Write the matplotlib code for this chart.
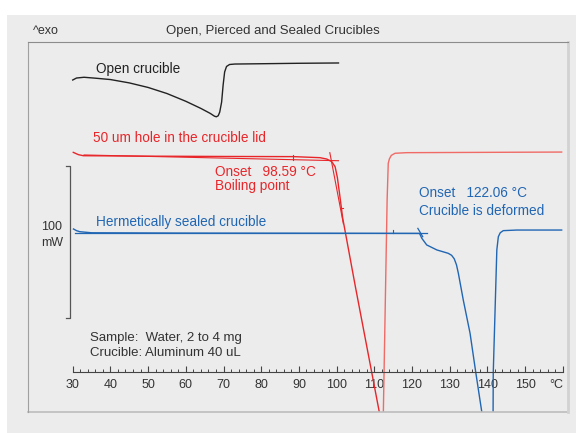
import matplotlib
matplotlib.use("Agg")
import matplotlib.pyplot as plt
import numpy as np
from matplotlib.lines import Line2D
from matplotlib.patches import Rectangle
from matplotlib.ticker import FixedLocator

plt.rcParams['font.family'] = ['Liberation Sans', 'DejaVu Sans']

# DSC curves: temperature (°C) vs heat flow (mW, arbitrary offsets)
open_T = [30.0, 31.0, 33.0, 36.0, 40.0, 45.0, 50.0, 55.0, 60.0, 64.0, 66.5, 67.6, 68.1,
          68.6, 69.0, 69.5, 69.9, 70.3, 70.8, 71.6, 73.0, 80.0, 90.0, 100.5]
open_mW = [192.1, 193.4, 193.9, 193.3, 192.4, 190.2, 187.2, 183.2, 178.1, 173.4, 170.1, 168.3, 167.9,
           168.6, 171.0, 177.6, 188.8, 197.4, 201.0, 202.3, 202.6, 202.8, 203.1, 203.3]

pierced_T = [30.15, 31.5, 32.8, 50.0, 70.0, 88.5, 95.6, 97.4, 98.7, 99.6, 100.2, 100.8,
             101.6, 105.0, 109.3, 112.2]
pierced_mW = [144.5, 143.0, 142.3, 142.0, 141.8, 141.7, 141.0, 140.1, 138.4, 135.1, 128.0, 117.0,
              101.5, 55.9, 0.0, -37.7]
pierced_ret_T = [112.3, 112.4, 113.4, 113.7, 114.0, 114.5, 115.5, 118.6, 159.7]
pierced_ret_mW = [-32.0, -26.3, 113.2, 137.3, 140.2, 142.5, 143.9, 144.3, 144.7]

sealed_T = [30.2, 31.0, 31.9, 35.0, 60.0, 100.0, 122.0, 122.6, 123.9, 126.6, 129.6, 130.5,
            131.2, 131.8, 132.3, 133.6, 135.4, 136.9, 138.5, 138.9]
sealed_mW = [94.1, 93.0, 92.3, 91.6, 91.4, 91.3, 91.2, 88.0, 83.6, 80.3, 78.1, 76.8,
             74.5, 70.5, 64.9, 47.4, 25.5, 0.0, -26.1, -33.0]
sealed_ret_T = [141.5, 141.55, 142.5, 142.9, 143.4, 144.2, 147.8, 159.7]
sealed_ret_mW = [-33.0, -0.7, 80.3, 89.0, 91.6, 93.0, 93.4, 93.4]

# onset evaluation constructions
pierced_base_T, pierced_base_mW = [33.0, 100.5], [142.8, 139.0]
pierced_tan_T, pierced_tan_mW = [98.2, 101.8], [144.3, 97.5]
sealed_base_T, sealed_base_mW = [30.5, 124.0], [91.3, 91.3]
sealed_tan_T, sealed_tan_mW = [121.55, 122.85], [94.5, 89.0]

pierced_onset = 98.59
sealed_onset = 122.06

major_ticks = list(range(30, 170, 10))
minor_ticks = list(range(30, 162, 2))
tick_labels = [str(t) for t in range(30, 160, 10)] + ['']

RED = '#e8262a'
RED_LIGHT = '#f06a66'
BLUE = '#2166b3'
BLACK = '#222222'
TEXT = '#333333'
BG = '#ececec'
FS = 9.8

fig = plt.figure(figsize=(5.76, 4.33), dpi=100, facecolor='white')
fig.patches.append(Rectangle((7 / 576, 0), 1, (433 - 15) / 433, transform=fig.transFigure,
                             facecolor=BG, edgecolor='none', zorder=-10))

ax = fig.add_axes([28 / 576, (433 - 412) / 433, 540 / 576, 370 / 433])
ax.set_facecolor(BG)
ax.set_xlim(18.14, 161.38)
ax.set_ylim(-26.3, 217.1)

ax.plot(open_T, open_mW, color=BLACK, lw=1.0)
ax.plot(pierced_T, pierced_mW, color=RED, lw=1.0)
ax.plot(pierced_ret_T, pierced_ret_mW, color=RED_LIGHT, lw=1.0)
ax.plot(sealed_T, sealed_mW, color=BLUE, lw=1.0)
ax.plot(sealed_ret_T, sealed_ret_mW, color=BLUE, lw=1.0)

ax.plot(pierced_base_T, pierced_base_mW, color=RED, lw=0.8)
ax.plot(pierced_tan_T, pierced_tan_mW, color=RED, lw=0.8)
ax.plot([88.4, 88.4], [139.8, 142.6], color=RED, lw=0.8)
ax.plot([101.1, 101.6], [108.0, 108.0], color=RED, lw=0.8)
ax.plot(sealed_base_T, sealed_base_mW, color=BLUE, lw=0.9)
ax.plot(sealed_tan_T, sealed_tan_mW, color=BLUE, lw=0.9)
ax.plot([115.0, 115.0], [91.3, 93.5], color=BLUE, lw=0.8)

# 100 mW scale bar
ax.plot([28.1, 29.3, 29.3, 28.1], [135.5, 135.5, 35.5, 35.5], color='#555555', lw=0.9)
ax.text(24.5, 95.6, '100', ha='center', va='center', fontsize=9, color=TEXT)
ax.text(24.5, 84.7, 'mW', ha='center', va='center', fontsize=9, color=TEXT)

ax.text(36.1, 199.3, 'Open crucible', fontsize=FS, color=BLACK, va='center')
ax.text(35.5, 153.8, '50 um hole in the crucible lid', fontsize=FS, color=RED, va='center')
ax.text(67.8, 131.8, f'Onset   {pierced_onset:.2f} °C', fontsize=FS, color=RED, va='center')
ax.text(67.8, 122.4, 'Boiling point', fontsize=FS, color=RED, va='center')
ax.text(36.2, 98.7, 'Hermetically sealed crucible', fontsize=FS, color=BLUE, va='center')
ax.text(121.9, 117.6, f'Onset   {sealed_onset:.2f} °C', fontsize=FS, color=BLUE, va='center')
ax.text(121.9, 105.9, 'Crucible is deformed', fontsize=FS, color=BLUE, va='center')
ax.text(34.6, 22.2, 'Sample:  Water, 2 to 4 mg', fontsize=9.5, color=TEXT, va='center')
ax.text(34.6, 12.3, 'Crucible: Aluminum 40 uL', fontsize=9.5, color=TEXT, va='center')
ax.text(158.2, -8.6, '°C', fontsize=9, color=TEXT, ha='center', va='center')

# temperature axis drawn inside the frame
ax.spines['bottom'].set_position(('data', 0))
ax.spines['bottom'].set_bounds(30, 160)
ax.spines['bottom'].set_color('#444444')
ax.spines['bottom'].set_linewidth(0.8)
ax.xaxis.set_major_locator(FixedLocator(major_ticks))
ax.xaxis.set_minor_locator(FixedLocator(minor_ticks))
ax.set_xticklabels(tick_labels)
ax.tick_params(axis='x', which='major', direction='in', length=4, width=0.8,
               color='#444444', labelsize=9, labelcolor=TEXT, pad=5)
ax.tick_params(axis='x', which='minor', direction='in', length=2.5, width=0.7, color='#444444')
ax.set_yticks([])

ax.spines['top'].set_color('#8c8c8c')
ax.spines['left'].set_color('#a0a0a0')
ax.spines['left'].set_linewidth(0.8)
ax.spines['right'].set_color('#d2d2d2')
ax.spines['right'].set_linewidth(2)
ax.add_line(Line2D([0, 1], [0, 0], transform=ax.transAxes, color='#bdbdbd', lw=1.2,
                   clip_on=False))

fig.text(33 / 576, (433 - 31) / 433, '^exo', fontsize=9, color=TEXT, va='center')
fig.text(272.5 / 576, (433 - 31) / 433, 'Open, Pierced and Sealed Crucibles', fontsize=9.5,
         color=TEXT, ha='center', va='center')

fig.savefig('out.png', dpi=100, facecolor='white')
